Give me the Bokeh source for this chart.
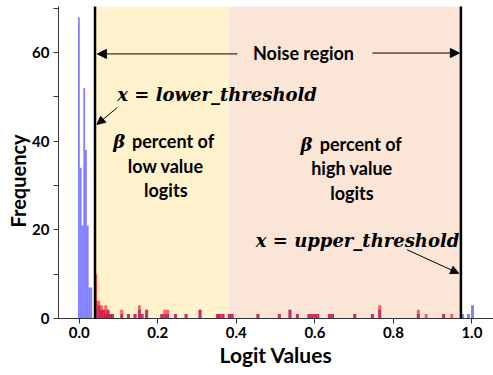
from bokeh.plotting import figure
from bokeh.models import (Range1d, Arrow, NormalHead, Label, BoxAnnotation, FixedTicker,
                          NumeralTickFormatter, Title)
from bokeh.embed import file_html
from bokeh.resources import INLINE

# ---- data ----
lower_threshold = 0.04
region_split = 0.38
upper_threshold = 0.972

# fine bins of the blue histogram near zero
blue_spike_x = [-0.001, 0.0035, 0.008, 0.0125, 0.017, 0.0215, 0.026, 0.0305]
blue_spike_count = [68, 34, 21, 52, 38, 21, 7, 7]
spike_width = 0.0045

# regular bins
bin_width = 0.0075
red_x = [0.042, 0.0495, 0.056, 0.062, 0.0675, 0.073, 0.0785, 0.0845, 0.108, 0.125,
         0.142, 0.153, 0.160, 0.1715, 0.210, 0.2175, 0.225, 0.245, 0.272, 0.3075,
         0.352, 0.358, 0.366, 0.382, 0.389, 0.455, 0.5095, 0.5365, 0.5555, 0.585,
         0.5925, 0.600, 0.6075, 0.637, 0.645, 0.7015, 0.7465, 0.765, 0.8635, 0.8835,
         0.928, 0.9485]
red_count = [10, 4, 3, 2, 3, 2, 1, 1, 2, 1,
             1, 3, 1, 2, 1, 2, 2, 1, 1, 2,
             1, 1, 1, 1, 1, 1, 1, 2, 1, 1,
             1, 1, 1, 1, 1, 1, 1, 3, 2, 1,
             1, 1]
blue_x = [0.042, 0.0495, 0.056, 0.062, 0.0675, 0.073, 0.0785, 0.0845, 0.108, 0.125,
          0.142, 0.153, 0.160, 0.1715, 0.210, 0.2175, 0.225, 0.245, 0.272, 0.3075,
          0.352, 0.358, 0.366, 0.382, 0.389, 0.455, 0.5095, 0.5365, 0.5555, 0.585,
          0.5925, 0.600, 0.6075, 0.637, 0.645, 0.7015, 0.7465, 0.765, 0.8635, 0.928,
          0.9765, 0.991, 1.0015]
blue_count = [4, 3, 2, 2, 1, 2, 1, 1, 1, 1,
              1, 2, 1, 2, 1, 1, 1, 1, 1, 2,
              1, 1, 1, 1, 1, 1, 1, 2, 1, 1,
              1, 1, 1, 1, 1, 1, 1, 2, 1, 1,
              1, 1, 3]

x_ticks = [0.0, 0.2, 0.4, 0.6, 0.8, 1.0]
y_ticks = [0, 20, 40, 60]
y_minor_ticks = [10, 30, 50, 70]

SANS = "Lato"
MATH = "DejaVu Serif"

p = figure(width=493, height=375, output_backend="svg", toolbar_location=None,
           x_range=Range1d(-0.053, 1.055), y_range=Range1d(0, 70.4),
           min_border_left=58, min_border_right=0, min_border_top=6, min_border_bottom=57)
p.outline_line_color = None
p.xgrid.grid_line_color = None
p.ygrid.grid_line_color = None
p.background_fill_color = "white"

# shaded regions
p.add_layout(BoxAnnotation(left=lower_threshold, right=region_split, fill_color="#FFF2CC",
                           fill_alpha=1.0, line_color=None, level="underlay"))
p.add_layout(BoxAnnotation(left=region_split, right=upper_threshold, fill_color="#FBE5D6",
                           fill_alpha=1.0, line_color=None, level="underlay"))

# histograms
p.vbar(x=blue_spike_x, top=blue_spike_count, bottom=0, width=spike_width,
       fill_color="#0000FF", fill_alpha=0.5, line_color=None)
p.vbar(x=blue_x, top=blue_count, bottom=0, width=bin_width,
       fill_color="#0000FF", fill_alpha=0.5, line_color=None)
p.vbar(x=red_x, top=red_count, bottom=0, width=bin_width,
       fill_color="#FF0000", fill_alpha=0.6, line_color=None)

# threshold lines (extend beyond the frame)
for thr in (lower_threshold, upper_threshold):
    p.add_layout(Arrow(end=None, x_start=thr, y_start=-4.5, x_end=thr, y_end=73,
                       line_color="black", line_width=2.5))

def txt(x, y, text, font=SANS, style="bold", size="18px", align="center"):
    p.add_layout(Label(x=x, y=y, text=text, text_font=font, text_font_style=style,
                       text_font_size=size, text_align=align, text_baseline="middle",
                       text_color="black"))

def arrow(x0, y0, x1, y1, size=9):
    p.add_layout(Arrow(end=NormalHead(size=size, fill_color="black", line_color="black"),
                       x_start=x0, y_start=y0, x_end=x1, y_end=y1,
                       line_color="black", line_width=1))

# noise region arrows
arrow(0.4025, 59.7, lower_threshold + 0.006, 59.7)
arrow(0.7465, 59.9, upper_threshold - 0.004, 59.9)
txt(0.571, 59.8, "Noise region")

# threshold labels and arrows
txt(0.0968, 50.6, "x = lower_threshold", font=MATH, style="bold italic", size="18px", align="left")
arrow(0.0968, 47.6, 0.0451, 43.8, size=8)
txt(0.968, 17.6, "x = upper_threshold", font=MATH, style="bold italic", size="18px", align="right")
arrow(0.835, 15.5, 0.9664, 10.2, size=8)

# beta texts
def beta_block(x_beta, x_text, x_center, ys, word):
    txt(x_beta, ys[0], "β", font=MATH, style="bold italic", size="18px", align="left")
    txt(x_text, ys[0], "percent of", align="left")
    txt(x_center, ys[1], word)
    txt(x_center, ys[2], "logits")

beta_block(0.0866, 0.1343, 0.2204, [39.95, 34.4, 29.0], "low value")
beta_block(0.5631, 0.6123, 0.6943, [39.3, 33.9, 28.3], "high value")

# axes
p.xaxis.ticker = FixedTicker(ticks=x_ticks)
p.xaxis.formatter = NumeralTickFormatter(format="0.0")
p.yaxis.ticker = FixedTicker(ticks=y_ticks, minor_ticks=y_minor_ticks)
for ax in (p.xaxis[0], p.yaxis[0]):
    ax.axis_line_color = "#333333"
    ax.major_tick_line_color = "#333333"
    ax.major_tick_in = 0
    ax.major_tick_out = 5
    ax.major_label_text_font = SANS
    ax.major_label_text_font_style = "bold"
    ax.major_label_text_font_size = "15px"
    ax.major_label_text_color = "black"
p.xaxis.minor_tick_line_color = None
p.yaxis.minor_tick_line_color = "#333333"
p.yaxis.minor_tick_in = 0
p.yaxis.minor_tick_out = 5
p.xaxis.major_label_standoff = 3
p.yaxis.major_label_standoff = 4

p.xaxis.axis_label = "Logit Values"
p.xaxis.axis_label_text_font = SANS
p.xaxis.axis_label_text_font_style = "bold"
p.xaxis.axis_label_text_font_size = "21px"
p.xaxis.axis_label_text_color = "black"
p.xaxis.axis_label_standoff = 1

ytitle = Title(text="Frequency", align="left", offset=91, standoff=0,
               text_font=SANS, text_font_style="bold", text_font_size="20px",
               text_color="black")
p.add_layout(ytitle, "left")

open("out.html", "w").write(file_html(p, INLINE))
